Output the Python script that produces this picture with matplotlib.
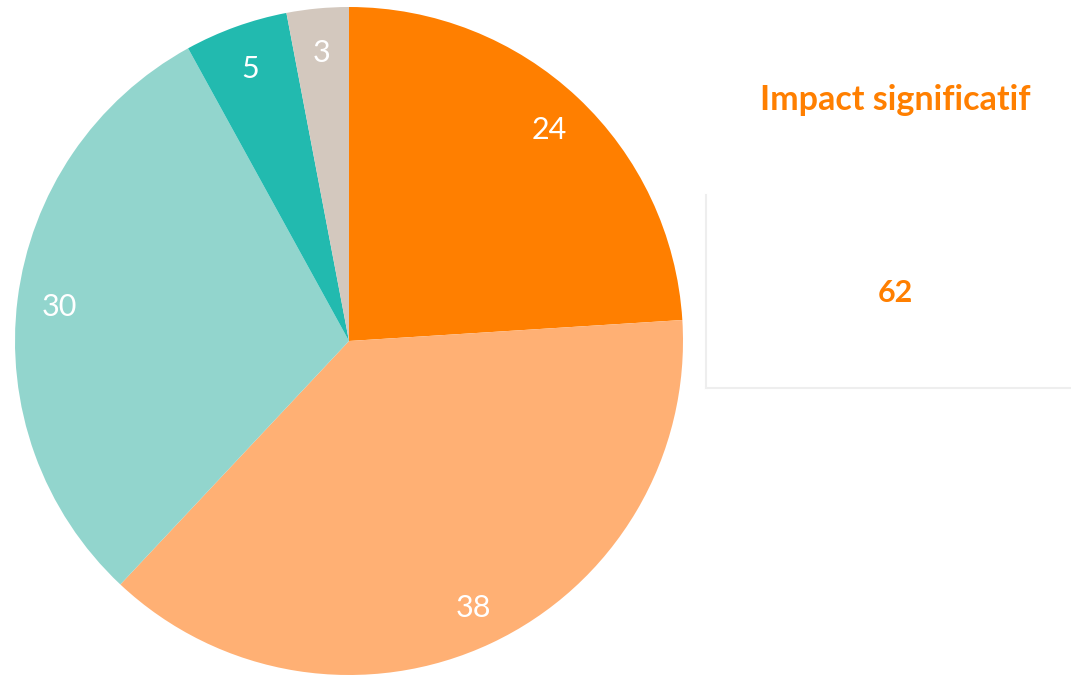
import matplotlib
matplotlib.use("Agg")
import matplotlib.pyplot as plt
from matplotlib.lines import Line2D

values = [24, 38, 30, 5, 3]
colors = ["#FF7F00", "#FFB074", "#92D5CD", "#22BAAF", "#D3C8BE"]
side_title = "Impact significatif"
side_value = "62"

W, H = 1071, 675
fig = plt.figure(figsize=(W / 100, H / 100), dpi=100)
fig.patch.set_facecolor("white")

cx, cy, r = 349, 341, 334
ax = fig.add_axes([(cx - r) / W, (H - cy - r) / H, 2 * r / W, 2 * r / H])
wedges, texts = ax.pie(values, colors=colors, startangle=90, counterclock=False,
                       labels=[str(v) for v in values], labeldistance=0.875,
                       wedgeprops=dict(linewidth=0),
                       textprops=dict(color="white", fontsize=22, family="Lato",
                                      fontweight="normal", ha="center",
                                      va="center_baseline"))
ax.set_xlim(-1, 1)
ax.set_ylim(-1, 1)
ax.set_aspect("equal")
ax.axis("off")

def fx(x):
    return x / W

def fy(y):
    return 1 - y / H

fig.add_artist(Line2D([fx(706), fx(706)], [fy(195), fy(388)], color="#EEEEEE", lw=1.5))
fig.add_artist(Line2D([fx(706), fx(1071)], [fy(388), fy(388)], color="#EEEEEE", lw=1.5))

fig.text(fx(895), fy(100), side_title, color="#FF7F00", fontsize=24.5, family="Lato",
         fontweight="bold", ha="center", va="center")
fig.text(fx(895), fy(293), side_value, color="#FF7F00", fontsize=22, family="Lato",
         fontweight="bold", ha="center", va="center")

fig.savefig("out.png", dpi=100, facecolor="white")
